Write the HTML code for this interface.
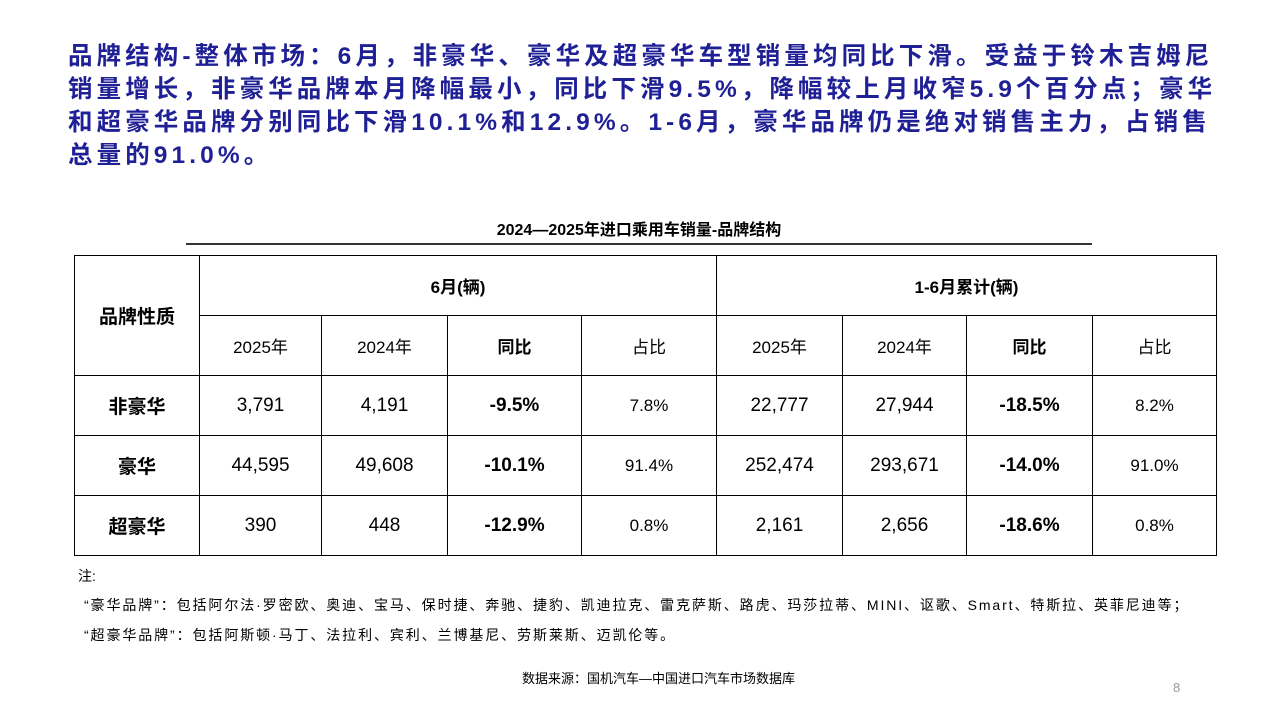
<!DOCTYPE html>
<html><head><meta charset="utf-8"><style>
body{margin:0;width:1280px;height:720px;background:#fff;position:relative;overflow:hidden;font-family:"Liberation Sans","Noto Sans CJK SC",sans-serif;color:#000}
.t{position:absolute;left:68px;top:40px;font-size:24.5px;font-weight:bold;color:#1f1f96;line-height:33px;letter-spacing:4.1px;white-space:nowrap}
.cap{position:absolute;left:186px;top:216px;width:906px;text-align:center;font-size:16px;font-weight:bold}
.cl{position:absolute;left:186px;top:243px;width:906px;height:2px;background:#333}
table{position:absolute;left:74px;top:255px;border-collapse:collapse;table-layout:fixed}
td{border:1px solid #000;height:59px;text-align:center;font-size:19px;padding:0}
.b{font-weight:bold}
.s{font-size:17px}
.n{position:absolute;font-size:14px;white-space:nowrap}
</style></head><body>
<div class="t">品牌结构-整体市场：6月，非豪华、豪华及超豪华车型销量均同比下滑。受益于铃木吉姆尼<br>销量增长，非豪华品牌本月降幅最小，同比下滑9.5%，降幅较上月收窄5.9个百分点；豪华<br>和超豪华品牌分别同比下滑10.1%和12.9%。1-6月，豪华品牌仍是绝对销售主力，占销售<br>总量的91.0%。</div>
<div class="cap">2024—2025年进口乘用车销量-品牌结构</div>
<div class="cl"></div>
<table>
<colgroup><col style="width:125px"><col style="width:122px"><col style="width:126px"><col style="width:134px"><col style="width:135px"><col style="width:126px"><col style="width:124px"><col style="width:126px"><col style="width:124px"></colgroup>
<tr><td rowspan="2" class="b">品牌性质</td><td colspan="4" class="b s">6月(辆)</td><td colspan="4" class="b s">1-6月累计(辆)</td></tr>
<tr><td class="s">2025年</td><td class="s">2024年</td><td class="b s">同比</td><td class="s">占比</td><td class="s">2025年</td><td class="s">2024年</td><td class="b s">同比</td><td class="s">占比</td></tr>
<tr><td class="b">非豪华</td><td>3,791</td><td>4,191</td><td class="b">-9.5%</td><td class="s">7.8%</td><td>22,777</td><td>27,944</td><td class="b">-18.5%</td><td class="s">8.2%</td></tr>
<tr><td class="b">豪华</td><td>44,595</td><td>49,608</td><td class="b">-10.1%</td><td class="s">91.4%</td><td>252,474</td><td>293,671</td><td class="b">-14.0%</td><td class="s">91.0%</td></tr>
<tr><td class="b">超豪华</td><td>390</td><td>448</td><td class="b">-12.9%</td><td class="s">0.8%</td><td>2,161</td><td>2,656</td><td class="b">-18.6%</td><td class="s">0.8%</td></tr>
</table>
<div class="n" style="left:78px;top:566px">注:</div>
<div class="n" style="left:84px;top:595px;letter-spacing:1.9px">“豪华品牌”：包括阿尔法·罗密欧、奥迪、宝马、保时捷、奔驰、捷豹、凯迪拉克、雷克萨斯、路虎、玛莎拉蒂、MINI、讴歌、Smart、特斯拉、英菲尼迪等；</div>
<div class="n" style="left:84px;top:625px;letter-spacing:1.9px">“超豪华品牌”：包括阿斯顿·马丁、法拉利、宾利、兰博基尼、劳斯莱斯、迈凯伦等。</div>
<div class="n" style="left:522px;top:668px;font-size:13px">数据来源：国机汽车—中国进口汽车市场数据库</div>
<div class="n" style="left:1173px;top:680px;font-size:13px;color:#999">8</div>
</body></html>
